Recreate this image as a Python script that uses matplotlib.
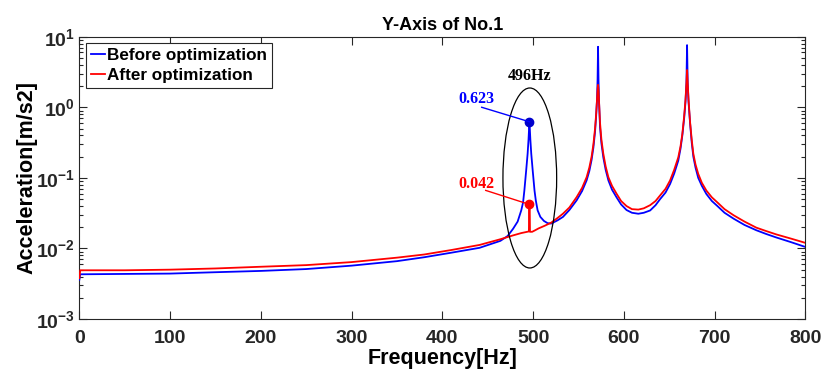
import math
import matplotlib
matplotlib.use("Agg")
import matplotlib.pyplot as plt
from matplotlib.patches import Ellipse
from matplotlib.ticker import LogLocator, FixedLocator, FuncFormatter, NullFormatter

plt.rcParams['font.family'] = ['Liberation Sans', 'DejaVu Sans']
plt.rcParams['mathtext.fontset'] = 'custom'
plt.rcParams['mathtext.rm'] = 'Liberation Sans:bold'
plt.rcParams['mathtext.bf'] = 'Liberation Sans:bold'
plt.rcParams['mathtext.it'] = 'Liberation Sans:bold'

# ---------------- data ----------------
freq_before = [0, 1, 50, 100, 150, 200, 250, 300, 350, 380, 410, 441, 464, 472,
               478, 483, 487, 489, 490.4, 492.4, 494, 495, 495.6, 496, 496.4,
               497, 498, 499.6, 501.6, 503, 505, 508, 512, 516, 520, 527, 533,
               540, 548, 554, 559, 562, 564.5, 566.5, 568.3, 569.5, 570.5,
               571.1, 571.6, 572.1, 572.7, 573.8, 575.3, 577.4, 580, 583, 587,
               592, 597, 603, 609, 616, 622, 629, 635, 640, 646, 651, 655.5,
               660, 662.5, 664.5, 666.5, 668, 669, 669.7, 670.4, 671.3, 673,
               674.8, 676.6, 679, 682, 686, 691, 697, 703, 711, 721, 733, 746,
               757, 768, 784, 800]
before = [0.0036, 0.0043, 0.00435, 0.0044, 0.0046, 0.0048, 0.0051, 0.0057,
          0.0066, 0.0075, 0.0087, 0.0102, 0.0128, 0.0150,
          0.019, 0.024, 0.0347, 0.045, 0.066, 0.127, 0.22, 0.35, 0.5, 0.623,
          0.5, 0.35, 0.22, 0.127, 0.066, 0.048, 0.0347, 0.028, 0.0245, 0.0228,
          0.0225, 0.025, 0.028,
          0.035, 0.048, 0.065, 0.092, 0.125, 0.18, 0.27, 0.45, 0.75, 1.3,
          2.5, 7.2, 2.5, 1.2, 0.52, 0.31, 0.195, 0.13, 0.092, 0.068,
          0.053, 0.042, 0.035, 0.032, 0.031, 0.032, 0.0345, 0.041, 0.050,
          0.062, 0.082, 0.115,
          0.175, 0.26, 0.4, 0.7, 1.2, 2.2, 7.6, 2.2, 1.2, 0.6,
          0.32, 0.2, 0.14, 0.10, 0.077, 0.059, 0.047, 0.040, 0.032, 0.0264,
          0.0215, 0.0181,
          0.016, 0.0143, 0.0123, 0.0105]

freq_after = [0, 1, 50, 100, 150, 200, 250, 300, 350, 380, 410, 441, 464, 478,
              487, 495.4, 495.6, 496, 496.4, 496.6, 499, 502, 506, 513, 520,
              527, 533, 540, 548, 554, 559, 562, 564.5, 566.5, 568.3, 569.5,
              570.5, 571.1, 571.6, 572.1, 572.7, 573.8, 575.3, 577.4, 580, 583,
              587, 592, 597, 603, 609, 616, 622, 629, 635, 640, 646, 651, 655.5,
              660, 662.5, 664.5, 666.5, 668, 669, 669.7, 670.4, 671.3, 673,
              674.8, 676.6, 679, 682, 686, 691, 697, 703, 711, 721, 733, 746,
              757, 768, 784, 800]
after = [0.0038, 0.0049, 0.0049, 0.0050, 0.0052, 0.0055, 0.0058, 0.0064,
         0.0074, 0.0082, 0.0095, 0.0112, 0.0135, 0.0153,
         0.0165, 0.0174, 0.030, 0.041, 0.030, 0.0172, 0.0172, 0.018, 0.0192,
         0.021, 0.0232,
         0.027, 0.0311, 0.038, 0.0533, 0.072, 0.102, 0.14, 0.2, 0.3, 0.5, 0.8,
         1.3, 1.8, 2.08, 1.8, 1.2, 0.6, 0.35, 0.22, 0.145, 0.102,
         0.077, 0.0596, 0.047, 0.0398, 0.036, 0.0355, 0.037, 0.041, 0.047,
         0.0564, 0.07, 0.092, 0.13,
         0.195, 0.28, 0.42, 0.75, 1.3, 2.2, 3.37, 2.2, 1.3, 0.62,
         0.35, 0.22, 0.155, 0.114, 0.085, 0.066, 0.053, 0.045, 0.036, 0.0295,
         0.024, 0.0197,
         0.0176, 0.0158, 0.0138, 0.012]

peak_freq = 496
peak_before = 0.623
peak_after = 0.042
xticks = [0, 100, 200, 300, 400, 500, 600, 700, 800]

# ---------------- figure ----------------
fig = plt.figure(figsize=(8.23, 3.78), dpi=100)
ax = fig.add_axes([0.0964, 0.1561, 0.9785 - 0.0964, 0.9029 - 0.1561])

ax.plot(freq_before, before, color='#0000ff', lw=1.3, label='Before optimization', zorder=3)
ax.plot(freq_after, after, color='#ff0000', lw=1.3, label='After optimization', zorder=4)

ax.set_yscale('log')
ax.set_xlim(0, 800)
ax.set_ylim(1e-3, 1e1)
ax.xaxis.set_major_locator(FixedLocator(xticks))
ax.yaxis.set_major_locator(LogLocator(base=10, numticks=10))
ax.yaxis.set_minor_locator(LogLocator(base=10, subs=range(2, 10), numticks=20))
ax.yaxis.set_minor_formatter(NullFormatter())

def yfmt(v, pos):
    e = int(round(math.log10(v)))
    return r'$\mathbf{10^{%d}}$' % e
ax.yaxis.set_major_formatter(FuncFormatter(yfmt))

ax.tick_params(which='both', direction='in', top=True, right=True,
               colors='#262626', width=0.8)
ax.tick_params(which='major', length=6)
ax.tick_params(which='minor', length=3)
ax.tick_params(axis='x', labelsize=14, pad=8)
ax.tick_params(axis='y', labelsize=14, pad=3)
for lab in ax.get_xticklabels():
    lab.set_fontweight('bold')
for s in ax.spines.values():
    s.set_linewidth(0.8)
    s.set_color('#262626')

ax.set_xlabel('Frequency[Hz]', fontsize=15.5, fontweight='bold', labelpad=1)
ax.set_ylabel('Acceleration[m/s2]', fontsize=15.5, fontweight='bold', labelpad=-1)
ax.set_title('Y-Axis of No.1', fontsize=13, fontweight='bold', pad=5)

leg = ax.legend(loc='upper left', bbox_to_anchor=(0.0092, 0.979), borderaxespad=0,
                prop={'weight': 'bold', 'size': 12.3}, handlelength=0.8,
                handletextpad=0.15, labelspacing=0.3, borderpad=0.3,
                fancybox=False, framealpha=1, edgecolor='#262626')
leg.get_frame().set_linewidth(0.8)

# annotations
ell = Ellipse((0.6205, 0.4995), 0.074, 0.6376, transform=ax.transAxes,
              fill=False, edgecolor='black', lw=0.9, zorder=5)
ax.add_patch(ell)

ax.plot([peak_freq], [peak_before], 'o', color='#0000cc', ms=6, zorder=6)
ax.plot([peak_freq], [peak_after], 'o', color='#ff0000', ms=6, zorder=6)
ax.plot([443.4, peak_freq], [1.0, peak_before], color='#0000ff', lw=1.0, zorder=6)
ax.plot([447.8, peak_freq], [0.0664, peak_after], color='#ff0000', lw=1.0, zorder=6)

serif = ['Liberation Serif', 'DejaVu Serif']
ax.text(496.6, 2.79, '496Hz', family=serif, fontweight='bold', fontsize=11.5,
        ha='center', va='center', color='black')
ax.text(437.9, 1.29, '%.3f' % peak_before, family=serif, fontweight='bold',
        fontsize=11.5, ha='center', va='center', color='#0000ff')
ax.text(437.9, 0.0826, '%.3f' % peak_after, family=serif, fontweight='bold',
        fontsize=11.5, ha='center', va='center', color='#ff0000')

fig.savefig('out.png', dpi=100)
